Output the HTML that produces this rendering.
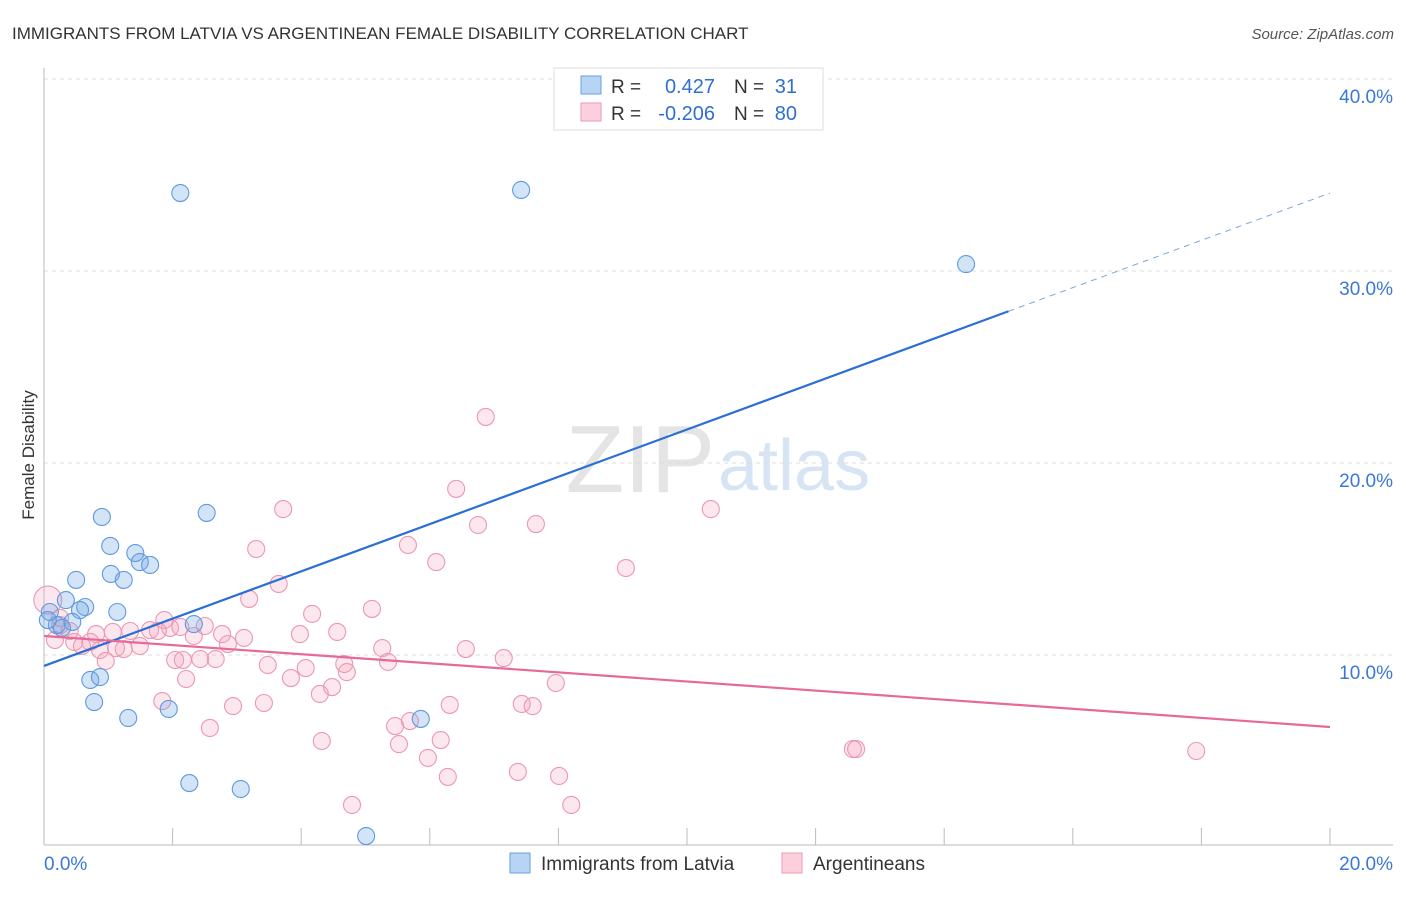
<!DOCTYPE html>
<html><head><meta charset="utf-8"><style>
body{margin:0;background:#fff;font-family:"Liberation Sans",sans-serif}
svg text{font-family:"Liberation Sans",sans-serif}
</style></head><body>
<svg width="1406" height="892" viewBox="0 0 1406 892">
<text x="12" y="39" font-size="17" fill="#333">IMMIGRANTS FROM LATVIA VS ARGENTINEAN FEMALE DISABILITY CORRELATION CHART</text>
<text x="1394" y="39" font-size="15" fill="#555" font-style="italic" text-anchor="end">Source: ZipAtlas.com</text>
<text x="715" y="492" font-size="96" fill="#e4e4e4" text-anchor="end" font-family="Liberation Serif">ZIP</text>
<text x="718" y="490" font-size="72" fill="#d6e4f4">atlas</text>
<g id="grid"></g>
<g id="axes"></g>
<g id="marks"></g>
<text x="34" y="455" font-size="17" fill="#333" text-anchor="middle" transform="rotate(-90 34 455)">Female Disability</text>
<g>
<rect x="554" y="68" width="269" height="62" fill="#fff" stroke="#ddd"/>
<rect x="581" y="76" width="20" height="18" fill="#b8d4f4" stroke="#6aa0e0"/>
<rect x="581" y="103" width="20" height="18" fill="#fbd0dc" stroke="#ee9ab4"/>
<text x="611" y="93" font-size="19" fill="#333">R =</text>
<text x="715" y="93" font-size="20" fill="#2f6fd0" text-anchor="end">0.427</text>
<text x="734" y="93" font-size="19" fill="#333">N =</text>
<text x="797" y="93" font-size="20" fill="#2f6fd0" text-anchor="end">31</text>
<text x="611" y="120" font-size="19" fill="#333">R =</text>
<text x="715" y="120" font-size="20" fill="#2f6fd0" text-anchor="end">-0.206</text>
<text x="734" y="120" font-size="19" fill="#333">N =</text>
<text x="797" y="120" font-size="20" fill="#2f6fd0" text-anchor="end">80</text>
</g>
<g>
<rect x="510" y="853" width="20" height="20" fill="#b8d4f4" stroke="#6aa0e0"/>
<text x="541" y="870" font-size="19" fill="#333">Immigrants from Latvia</text>
<rect x="782" y="853" width="20" height="20" fill="#fbd0dc" stroke="#ee9ab4"/>
<text x="813" y="870" font-size="19" fill="#333">Argentineans</text>
</g>
</svg>
<script>
const yTicks=[10,20,30,40];
const yTickLabels=["10.0%","20.0%","30.0%","40.0%"];
const xTicks=[0,2,4,6,8,10,12,14,16,18,20];
const xEndLabels=["0.0%","20.0%"];
const latviaX=[2.12,7.42,14.34,0.90,2.53,1.03,1.42,1.49,1.65,1.04,1.24,0.50,0.34,0.64,0.56,1.14,0.44,2.33,0.20,0.09,0.28,0.72,0.87,0.78,1.31,1.94,5.86,2.26,3.06,5.01,0.06];
const latviaY=[34.06,34.22,30.36,17.19,17.40,15.68,15.31,14.84,14.69,14.22,13.91,13.91,12.86,12.5,12.34,12.24,11.72,11.61,11.56,12.24,11.41,8.70,8.85,7.55,6.72,7.19,6.67,3.33,3.02,0.57,11.82];
const argX=[6.87,6.41,10.37,3.72,6.75,7.65,3.30,5.66,6.10,9.05,3.65,3.19,5.10,4.17,1.87,2.50,1.96,1.65,1.77,2.12,2.33,1.07,1.34,2.77,3.11,2.86,3.98,4.56,5.26,6.56,0.81,0.72,0.47,0.59,0.40,0.25,0.87,1.24,1.49,1.12,0.96,2.04,2.16,2.43,2.67,3.48,4.07,5.35,4.67,4.71,7.15,3.84,2.21,4.29,4.48,7.96,1.84,3.42,2.94,6.31,7.43,7.60,2.58,5.46,5.69,4.32,6.17,5.52,5.97,6.28,7.37,8.01,4.79,8.20,12.58,12.63,17.92,0.06,0.25,0.17];
const argY=[22.40,18.65,17.60,17.60,16.77,16.82,15.52,15.73,14.84,14.53,13.70,12.92,12.40,12.14,11.82,11.51,11.41,11.30,11.25,11.46,10.99,11.20,11.25,11.09,10.89,10.57,11.09,11.20,10.36,10.31,11.09,10.68,10.68,10.47,11.25,11.56,10.26,10.31,10.47,10.36,9.69,9.74,9.74,9.79,9.79,9.48,9.32,9.64,9.53,9.11,9.84,8.80,8.75,7.97,8.33,8.54,7.60,7.50,7.34,7.40,7.45,7.34,6.20,6.30,6.56,5.52,5.57,5.36,4.64,3.65,3.91,3.70,2.19,2.19,5.10,5.10,5.00,12.86,11.93,10.78];
const latviaTrend=[9.43,34.06];
const argTrend=[10.99,6.25];
const sx=v=>44+v*64.3, sy=v=>847-v*19.2;
const NS="http://www.w3.org/2000/svg";
function mk(tag,attrs,parent){const e=document.createElementNS(NS,tag);for(const k in attrs)e.setAttribute(k,attrs[k]);document.getElementById(parent).appendChild(e);return e;}
yTicks.forEach((t,i)=>{
 const g=mk('line',{x1:44,x2:1393,y1:sy(t),y2:sy(t),stroke:'#ddd','stroke-dasharray':'4,4'},'grid');
 
 
 const l=mk('text',{x:1393,y:sy(t)+24,'font-size':19,fill:'#3a78d6','text-anchor':'end'},'axes');
 l.textContent=yTickLabels[i];
 
 
});
const ya=mk('line',{x1:44,x2:44,y1:68,y2:845,stroke:'#bbb'},'axes');


const xa=mk('line',{x1:44,x2:1393,y1:845,y2:845,stroke:'#bbb'},'axes');


xTicks.slice(1).forEach(t=>{
 const k=mk('line',{x1:sx(t),x2:sx(t),y1:828,y2:845,stroke:'#bbb'},'axes');
 
 
});
const xl0=mk('text',{x:44,y:870,'font-size':19,fill:'#3a78d6'},'axes');xl0.textContent=xEndLabels[0];


const xl1=mk('text',{x:1393,y:870,'font-size':19,fill:'#3a78d6','text-anchor':'end'},'axes');xl1.textContent=xEndLabels[1];


argX.forEach((x,i)=>{
 const c=mk('circle',{cx:sx(x),cy:sy(argY[i]),r:i===77?14:8.5,fill:'rgba(244,160,188,0.25)',stroke:'#eb98b2','stroke-width':1.1},'marks');
 
 
});
latviaX.forEach((x,i)=>{
 const c=mk('circle',{cx:sx(x),cy:sy(latviaY[i]),r:8.5,fill:'rgba(110,165,230,0.3)',stroke:'#5e9ae0','stroke-width':1.1},'marks');
 
 
});
const lt=v=>latviaTrend[0]+(latviaTrend[1]-latviaTrend[0])*v/20;
const b1=mk('line',{x1:sx(0),y1:sy(lt(0)),x2:sx(15),y2:sy(lt(15)),stroke:'#2a6fd6','stroke-width':2.2},'marks');


const b2=mk('line',{x1:sx(15),y1:sy(lt(15)),x2:sx(20),y2:sy(lt(20)),stroke:'#7aa6e0','stroke-width':1,'stroke-dasharray':'6,5'},'marks');


const p1=mk('line',{x1:sx(0),y1:sy(argTrend[0]),x2:sx(20),y2:sy(argTrend[1]),stroke:'#e8689a','stroke-width':2.2},'marks');


</script>
</body></html>
